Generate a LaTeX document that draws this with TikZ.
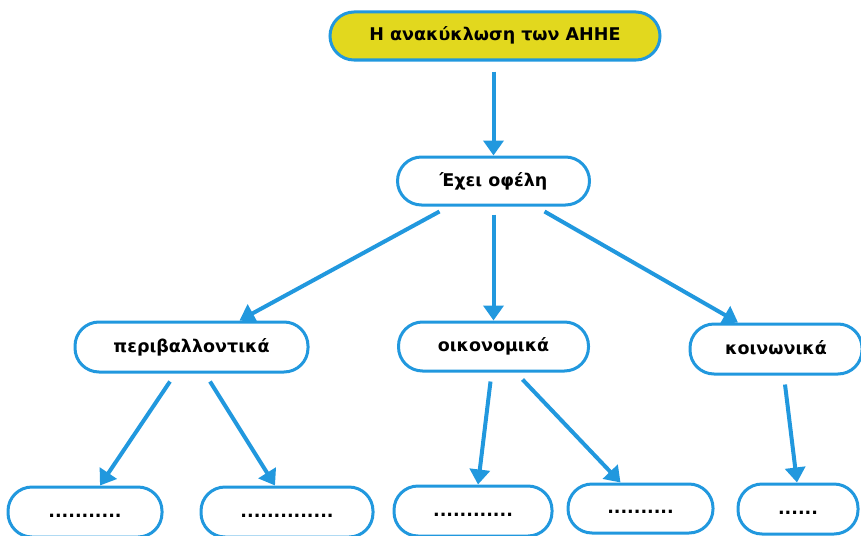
\documentclass[tikz,border=0pt]{standalone}
\usepackage{fontspec}
\setmainfont{DejaVu Sans}
\usetikzlibrary{arrows.meta,calc}
\definecolor{lineblue}{RGB}{33,152,222}
\definecolor{titleyellow}{RGB}{226,216,30}
\tikzset{
  box/.style={draw=lineblue, line width=3pt, fill=white, rounded corners=24pt,
    inner sep=0pt, font=\fontsize{17.5}{20}\selectfont\bfseries, text=black,
    text height=13pt, text depth=3pt},
  arr/.style={draw=lineblue, line width=4pt,
    -{Triangle[length=15pt,width=20pt]}},
}
\begin{document}
\begin{tikzpicture}[x=1pt,y=-1pt]
\useasboundingbox (0,0) rectangle (861,535);
\node[box, fill=titleyellow, minimum width=330pt, minimum height=48pt] (top) at (495,36) {Η ανακύκλωση των ΑΗΗΕ};
\node[box, minimum width=192pt, minimum height=48pt] (mid) at (493.5,181) {Έχει οφέλη};
\node[box, minimum width=233pt, minimum height=50pt] (peri) at (191.5,347) {περιβαλλοντικά};
\node[box, minimum width=190pt, minimum height=49pt] (oik) at (493.5,346.5) {οικονομικά};
\node[box, minimum width=172pt, minimum height=50pt] (koin) at (776,349) {κοινωνικά};
\node[box, minimum width=154pt, minimum height=50pt] (b1) at (85,512) {...........};
\node[box, minimum width=172pt, minimum height=50pt] (b2) at (287,512) {..............};
\node[box, minimum width=158pt, minimum height=50pt] (b3) at (473,511) {............};
\node[box, minimum width=145pt, minimum height=49pt] (b4) at (640.5,508.5) {..........};
\node[box, minimum width=120pt, minimum height=50pt] (b5) at (798,509) {......};

\draw[arr] ([yshift=-10pt]top.south -| mid.north) -- (mid.north);
\draw[arr] ([xshift=-54pt,yshift=-5pt]mid.south) -- ([xshift=48pt]peri.north);
\draw[arr] ([yshift=-8pt]mid.south) -- (oik.north);
\draw[arr] ([xshift=51pt,yshift=-5pt]mid.south) -- ([xshift=-38pt]koin.north);
\draw[arr] ([xshift=-21.5pt,yshift=-8pt]peri.south) -- ([xshift=15pt]b1.north);
\draw[arr] ([xshift=18.5pt,yshift=-8pt]peri.south) -- ([xshift=-12pt]b2.north);
\draw[arr] ([xshift=-3pt,yshift=-9pt]oik.south) -- ([xshift=5pt]b3.north);
\draw[arr] ([xshift=29pt,yshift=-7pt]oik.south) -- ([xshift=-20pt]b4.north);
\draw[arr] ([xshift=9pt,yshift=-9pt]koin.south) -- ([xshift=-1pt]b5.north);
\end{tikzpicture}
\end{document}
